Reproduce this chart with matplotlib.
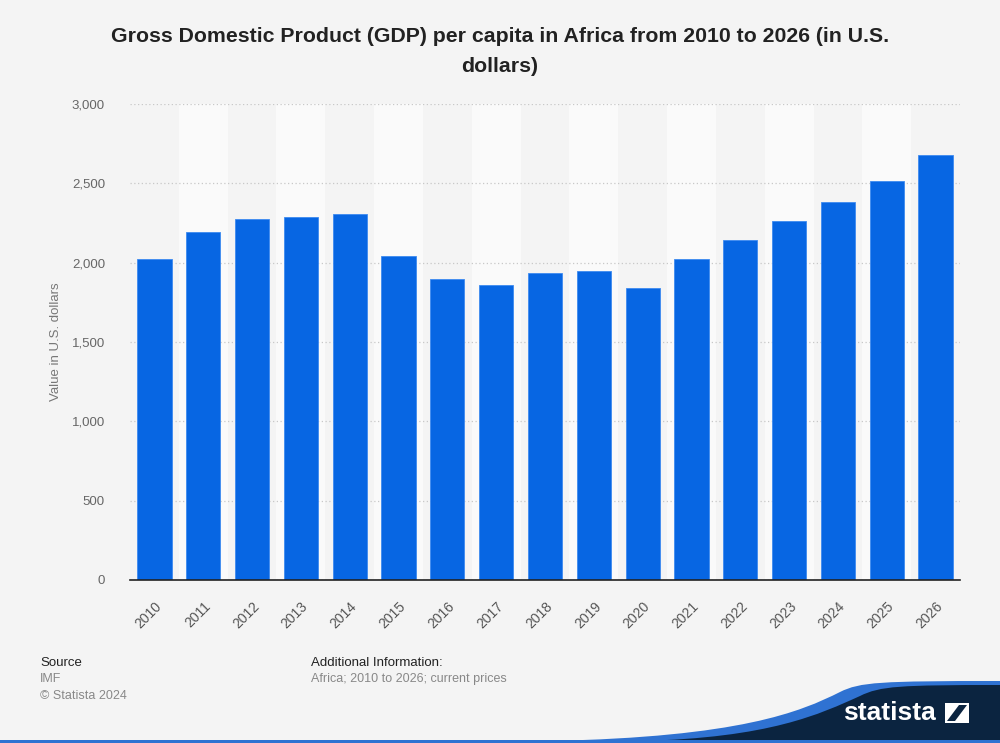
import matplotlib
matplotlib.use("Agg")
import matplotlib.pyplot as plt
import numpy as np
from matplotlib.patches import Polygon, Rectangle
from matplotlib.path import Path
from matplotlib.patches import PathPatch

years = [str(y) for y in range(2010, 2027)]
gdp = [2020, 2195, 2275, 2290, 2305, 2045, 1895, 1862, 1937, 1945, 1838,
       2020, 2140, 2265, 2383, 2515, 2680]
yticks = [0, 500, 1000, 1500, 2000, 2500, 3000]
ytick_labels = ["0", "500", "1,000", "1,500", "2,000", "2,500", "3,000"]

plt.rcParams['font.family'] = ['Liberation Sans', 'DejaVu Sans']

BG = "#f4f4f4"
fig = plt.figure(figsize=(10, 7.43), dpi=100, facecolor=BG)
ax = fig.add_axes([0.13, 1 - 580 / 743, 0.83, (580 - 104) / 743])
ax.set_facecolor(BG)

x = np.arange(len(years))
for i in x:
    if i % 2 == 1:
        ax.axvspan(i - 0.5, i + 0.5, color="#fafafa", zorder=0, lw=0)

ax.bar(x, gdp, width=0.7, color="#0766e3", edgecolor="#3d8af0", linewidth=0.6, zorder=3)

ax.set_xlim(-0.5, len(years) - 0.5)
ax.set_ylim(0, 3000)
ax.set_yticks(yticks)
ax.set_yticklabels(ytick_labels)
ax.set_xticks(x)
ax.set_xticklabels(years, rotation=45, ha="right", rotation_mode="anchor")
ax.tick_params(axis="both", length=0, colors="#666666", labelsize=9.5)
ax.tick_params(axis="x", pad=14)
ax.tick_params(axis="y", pad=18)
for lab in ax.get_xticklabels():
    lab.set_color("#555555")
    lab.set_fontsize(10)
ax.yaxis.grid(True, linestyle=(0, (1, 2)), color="#c8c8c8", linewidth=0.9, zorder=1)
ax.set_axisbelow(True)
for s in ["top", "right", "left"]:
    ax.spines[s].set_visible(False)
ax.spines["bottom"].set_color("#222222")
ax.spines["bottom"].set_linewidth(1.2)
ax.spines["bottom"].set_zorder(4)

ax.set_ylabel("Value in U.S. dollars", color="#777777", fontsize=9.5, labelpad=10)
ax.yaxis.set_label_coords(-0.082, 0.5)

fig.text(0.5, 1 - 37 / 743, "Gross Domestic Product (GDP) per capita in Africa from 2010 to 2026 (in U.S.",
         ha="center", va="center", fontsize=15.3, fontweight="bold", color="#222222")
fig.text(0.5, 1 - 67 / 743, "dollars)",
         ha="center", va="center", fontsize=15.3, fontweight="bold", color="#222222")

# footer
fig.text(0.04, 1 - 663 / 743, "Source", fontsize=9.5, color="#222222", va="center")
fig.text(0.04, 1 - 679 / 743, "IMF", fontsize=9, color="#888888", va="center")
fig.text(0.04, 1 - 696 / 743, "© Statista 2024", fontsize=9, color="#888888", va="center")
fig.text(0.311, 1 - 663 / 743, "Additional Information:", fontsize=9.5, color="#222222", va="center")
fig.text(0.311, 1 - 679 / 743, "Africa; 2010 to 2026; current prices", fontsize=9, color="#888888", va="center")

# logo wave
def fy(py):
    return 1 - py / 743

codes = [Path.MOVETO, Path.CURVE4, Path.CURVE4, Path.CURVE4, Path.CURVE4, Path.CURVE4,
         Path.LINETO, Path.LINETO, Path.CLOSEPOLY]
blue_path = Path([(0.55, fy(741)), (0.74, fy(737)), (0.80, fy(712)), (0.84, fy(692)),
                  (0.86, fy(682)), (0.88, fy(681)), (1.0, fy(681)), (1.0, fy(741)), (0.55, fy(741))],
                 codes)
fig.patches.append(PathPatch(blue_path, transform=fig.transFigure, facecolor="#2f72d2", lw=0))
navy_path = Path([(0.64, fy(741)), (0.77, fy(738)), (0.82, fy(714)), (0.86, fy(696)),
                  (0.88, fy(686)), (0.90, fy(685)), (1.0, fy(685)), (1.0, fy(741)), (0.64, fy(741))],
                 codes)
fig.patches.append(PathPatch(navy_path, transform=fig.transFigure, facecolor="#0b2440", lw=0))
fig.text(0.843, fy(713), "statista", fontsize=19, fontweight="bold", color="white", va="center", ha="left")
fig.patches.append(Rectangle((0.945, fy(723)), 0.024, 20 / 743, transform=fig.transFigure,
                             facecolor="white", lw=0))
fig.patches.append(Polygon([(0.947, fy(721)), (0.955, fy(721)), (0.967, fy(705)), (0.959, fy(705))],
                           closed=True, transform=fig.transFigure, facecolor="#0b2440", lw=0))
# bottom line
fig.patches.append(Rectangle((0, 0), 1, 3 / 743, transform=fig.transFigure, facecolor="#2f72d2", lw=0))

fig.savefig("out.png", dpi=100, facecolor=BG)
